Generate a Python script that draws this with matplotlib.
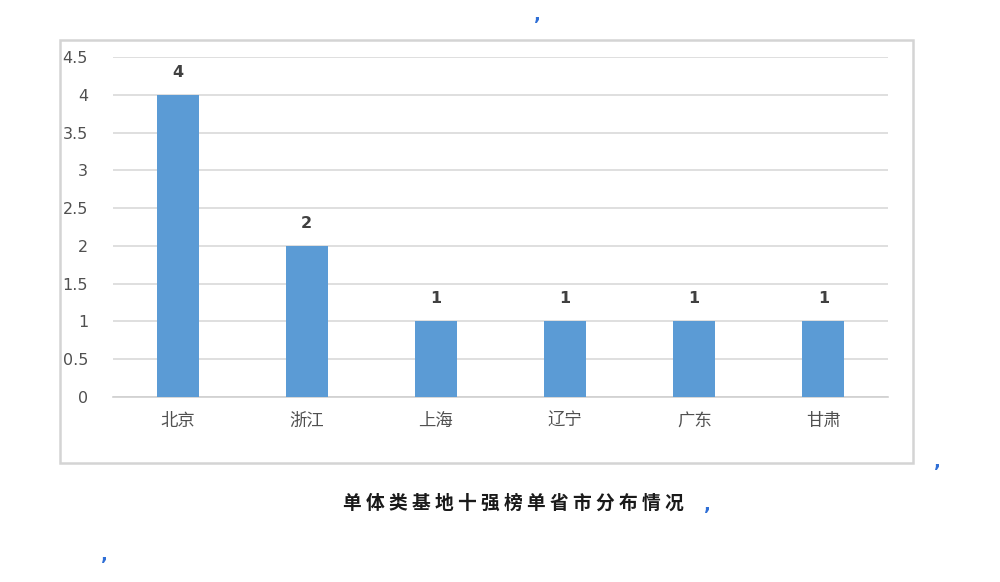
import matplotlib
matplotlib.use('Agg')
import matplotlib.pyplot as plt
from matplotlib.patches import Rectangle

plt.rcParams['font.family'] = ['Noto Sans CJK SC', 'DejaVu Sans']

provinces = ['北京', '浙江', '上海', '辽宁', '广东', '甘肃']
counts = [4, 2, 1, 1, 1, 1]
yticks = [0, 0.5, 1, 1.5, 2, 2.5, 3, 3.5, 4, 4.5]
ytick_labels = ['0', '0.5', '1', '1.5', '2', '2.5', '3', '3.5', '4', '4.5']
caption = '单体类基地十强榜单省市分布情况'

fig = plt.figure(figsize=(10, 5.82), dpi=100)
fig.patches.append(Rectangle((0.06, 0.204), 0.853, 0.727, transform=fig.transFigure,
                             fill=False, edgecolor='#d4d4d4', linewidth=1.8))

ax = fig.add_axes([0.113, 0.318, 0.775, 0.584])
x = list(range(len(provinces)))
bars = ax.bar(x, counts, width=0.325, color='#5b9bd5', zorder=3)
for b, v in zip(bars, counts):
    ax.annotate(str(v), (b.get_x() + b.get_width() / 2, v), xytext=(0, 11),
                textcoords='offset points', ha='center', va='bottom',
                fontsize=11.5, color='#404040', fontweight='bold', family='DejaVu Sans')

ax.set_xlim(-0.5, len(provinces) - 0.5)
ax.set_ylim(0, 4.5)
ax.set_yticks(yticks)
ax.set_yticklabels(ytick_labels, fontsize=11.5, color='#505050', family='DejaVu Sans')
ax.set_xticks(x)
ax.set_xticklabels(provinces, fontsize=12.5, color='#505050')
ax.tick_params(axis='both', length=0)
ax.tick_params(axis='y', pad=18)
ax.tick_params(axis='x', pad=11)
ax.yaxis.grid(True, color='#d9d9d9', linewidth=1.2, zorder=0)
ax.set_axisbelow(True)
for s in ['top', 'right', 'left']:
    ax.spines[s].set_visible(False)
ax.spines['bottom'].set_color('#d0d0d0')
ax.spines['bottom'].set_linewidth(1.2)

fig.text(0.513, 1 - 503 / 582, ' '.join(caption), ha='center', va='center',
         fontsize=13.5, color='#1a1a1a', fontweight='bold')

# word paragraph marks
for px, py in [(0.537, 0.975), (0.937, 1 - 462 / 582), (0.707, 1 - 505 / 582), (0.104, 1 - 555 / 582)]:
    fig.text(px, py, ',', ha='center', va='center', fontsize=13, color='#2f6fd6',
             fontweight='bold', family='DejaVu Sans')

fig.savefig('out.png', dpi=100)
